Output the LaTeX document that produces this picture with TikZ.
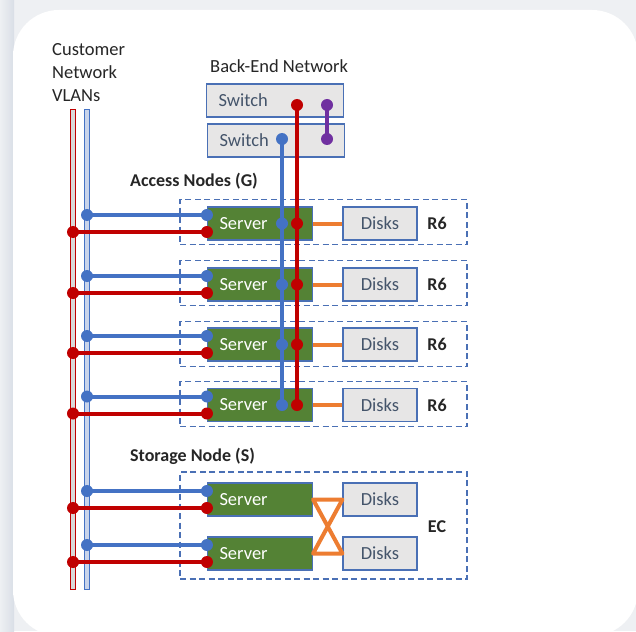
\documentclass[tikz,border=0pt]{standalone}
\usepackage{fontspec}
\setmainfont{Carlito}
\definecolor{vred}{HTML}{C00000}
\definecolor{vblue}{HTML}{4472C4}
\definecolor{srvgreen}{HTML}{548235}
\definecolor{lnkorange}{HTML}{ED7D31}
\definecolor{swpurple}{HTML}{7030A0}
\definecolor{boxgray}{HTML}{E7E6E6}
\definecolor{boxedge}{HTML}{4A70B5}
\definecolor{labelink}{HTML}{44546A}
\definecolor{bargray}{HTML}{D9D9D9}
\definecolor{barblue}{HTML}{C9D4EA}
\definecolor{pagebg}{HTML}{EEF0F3}
\definecolor{shadowbg}{HTML}{D9DEE6}
\definecolor{inktext}{HTML}{262626}
\begin{document}
\begin{tikzpicture}[x=1pt,y=-1pt,
  txt/.style={font=\fontsize{18.5}{23}\selectfont},
  head/.style={font=\bfseries\fontsize{18}{22}\selectfont, text=inktext, anchor=west, inner sep=0},
  tag/.style={font=\bfseries\fontsize{18}{22}\selectfont, text=inktext, inner sep=0},
  server/.style={txt, draw=boxedge, line width=1.1pt, fill=srvgreen, text=white,
    minimum height=33pt, text width=81pt, inner xsep=12pt, inner ysep=0pt, align=left},
  disks/.style={txt, draw=boxedge, line width=1.1pt, fill=boxgray, text=labelink,
    minimum height=33pt, minimum width=74pt, inner sep=0pt},
  switchbox/.style={txt, draw=boxedge, line width=1.1pt, fill=boxgray, text=labelink,
    minimum height=33pt, text width=113pt, inner xsep=12pt, inner ysep=0pt, align=left},
  group/.style={draw=boxedge, dash pattern=on 6pt off 3.5pt, line width=1.1pt,
    minimum width=287pt, inner sep=0pt},
  vbar/.style={line width=1pt, minimum width=5pt, minimum height=479pt, inner sep=0pt},
  bluelink/.style={vblue, line width=4pt},
  redlink/.style={vred, line width=4pt},
  orangelink/.style={lnkorange, line width=4pt},
  purplelink/.style={swpurple, line width=4pt},
  reddot/.style={fill=vred},
  bluedot/.style={fill=vblue},
  purpledot/.style={fill=swpurple}
]
\useasboundingbox (0,0) rectangle (636,631);
% page, soft shadow and white card
\fill[pagebg] (0,0) rectangle (636,631);
\shade[left color=pagebg, right color=shadowbg] (0,0) rectangle (14,631);
\fill[white] (13,10) [rounded corners=46pt] rectangle (638,636);

% headings
\node[txt, text=inktext, anchor=west, align=left, inner sep=0] (custlbl) at (52,73)
  {Customer\\Network\\VLANs};
\node[txt, text=inktext, anchor=west, inner sep=0] (belbl) at (210,66) {Back-End Network};
\node[head] (acclbl) at (130,181) {Access Nodes (G)};
\node[head] (stolbl) at (130,456) {Storage Node (S)};

% customer VLAN bars
\node[vbar, draw=vred, fill=bargray] (vr) at (73,349.5) {};
\node[vbar, draw=vblue, fill=barblue] (vb) at (87,349.5) {};

% back-end switches
\node[switchbox] (sw1) at (275,100.5) {Switch};
\node[switchbox] (sw2) at (276,140.5) {Switch};
\coordinate (swr) at (297,105);
\coordinate (swb) at (282,139);
\coordinate (swp1) at (327,105);
\coordinate (swp2) at (327,139);

% node groups
\foreach \i/\y in {1/222,2/283,3/344,4/404}{
  \node[group, minimum height=45pt] (g\i) at (323.5,\y) {};
}
\node[group, minimum height=107pt] (gs) at (323.5,525.5) {};

% access nodes with their disks
\foreach \i/\y in {1/223.5,2/284.5,3/344.5,4/405}{
  \node[server] (s\i) at (260,\y) {Server};
  \node[disks] (d\i) at (380,\y) {Disks};
  \node[tag] (r\i) at (437,\y) {R6};
  \draw[orangelink] (s\i.east) -- (d\i.west);
}
% storage node: every server reaches both disk sets
\node[server] (st1) at (260,499.5) {Server};
\node[server] (st2) at (260,553.5) {Server};
\node[disks] (sd1) at (380,499.5) {Disks};
\node[disks] (sd2) at (380,553.5) {Disks};
\node[tag] (ec) at (437,527) {EC};
\draw[orangelink, line join=round] (st1.east) -- (sd1.west) -- (st2.east) -- (sd2.west) -- cycle;

% customer links into each server
\foreach \s in {s1,s2,s3,s4,st1,st2}{
  \coordinate (b-\s) at ([yshift=8.5pt]\s.west);
  \coordinate (r-\s) at ([yshift=-8.5pt]\s.west);
  \coordinate (vb-\s) at (vb |- b-\s);
  \coordinate (vr-\s) at (vr |- r-\s);
  \draw[bluelink] (vb-\s) -- (b-\s);
  \draw[redlink] (vr-\s) -- (r-\s);
  \fill[bluedot] (vb-\s) circle (6pt) (b-\s) circle (6pt);
  \fill[reddot] (vr-\s) circle (6pt) (r-\s) circle (6pt);
}

% back-end links
\draw[bluelink] (swb) -- (swb |- s4);
\draw[redlink] (swr) -- (swr |- s4);
\draw[purplelink] (swp1) -- (swp2);
\fill[reddot] (swr) circle (6pt);
\fill[bluedot] (swb) circle (6pt);
\fill[purpledot] (swp1) circle (6pt) (swp2) circle (6pt);
\foreach \s in {s1,s2,s3,s4}{
  \fill[bluedot] (swb |- \s) circle (6pt);
  \fill[reddot] (swr |- \s) circle (6pt);
}
\end{tikzpicture}
\end{document}
